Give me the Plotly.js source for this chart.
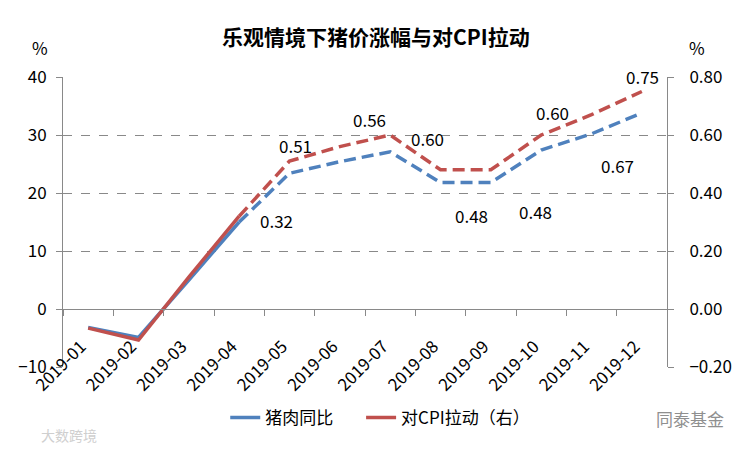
<!DOCTYPE html>
<html>
<head>
<meta charset="utf-8">
<script src="https://cdn.plot.ly/plotly-3.0.1.min.js"></script>
<style>html,body{margin:0;padding:0;background:#fff;}#chart{width:750px;height:450px;}</style>
</head>
<body>
<div id="chart"></div>
<script>
// ---- data ----
var months = ['2019-01','2019-02','2019-03','2019-04','2019-05','2019-06','2019-07','2019-08','2019-09','2019-10','2019-11','2019-12'];
var porkYoY = [-3.2, -4.9, 5.0, 15.0, 23.4, 25.4, 27.1, 21.8, 21.8, 27.4, 30.2, 33.8];
var cpiPull = [-0.066, -0.107, 0.11, 0.32, 0.51, 0.56, 0.60, 0.48, 0.48, 0.60, 0.67, 0.75];
var seriesNames = ['猪肉同比', '对CPI拉动（右）'];
var splitIndex = 3; // actual data up to 2019-04, forecast afterwards

// ---- styles ----
var FONT = '"Noto Sans CJK SC", "Noto Sans", sans-serif';
var BLUE = '#4F81BD', RED = '#C0504D', AXIS = '#898989';
var LW = 3.5, DASH = '12px,6px';
var NBSP = '\u00a0\u00a0\u00a0\u00a0\u00a0\u00a0';
// pixel offsets of the data labels (label placement only)
var labelShift = [[37,-4],[6,16],[30,27],[37,-3],[31,-46],[45,-42],[11,23],[26,-51],[1,15]];

var traces = [
  {x: months.slice(0, splitIndex + 1), y: porkYoY.slice(0, splitIndex + 1), name: seriesNames[0] + NBSP,
   type: 'scatter', mode: 'lines', line: {color: BLUE, width: LW}, legendgroup: 'a', yaxis: 'y'},
  {x: months.slice(splitIndex), y: porkYoY.slice(splitIndex), name: seriesNames[0], showlegend: false,
   type: 'scatter', mode: 'lines', line: {color: BLUE, width: LW, dash: DASH}, legendgroup: 'a', yaxis: 'y'},
  {x: months.slice(0, splitIndex + 1), y: cpiPull.slice(0, splitIndex + 1), name: seriesNames[1],
   type: 'scatter', mode: 'lines', line: {color: RED, width: LW}, legendgroup: 'b', yaxis: 'y2'},
  {x: months.slice(splitIndex), y: cpiPull.slice(splitIndex), name: seriesNames[1], showlegend: false,
   type: 'scatter', mode: 'lines', line: {color: RED, width: LW, dash: DASH}, legendgroup: 'b', yaxis: 'y2'}
];

var annotations = [];
for (var i = splitIndex; i < months.length; i++) {
  var s = labelShift[i - splitIndex];
  annotations.push({x: months[i], y: cpiPull[i], xref: 'x', yref: 'y2', text: cpiPull[i].toFixed(2),
    showarrow: false, xshift: s[0], yshift: s[1], font: {family: FONT, size: 17, color: '#000'}});
}
annotations.push({xref: 'paper', yref: 'paper', x: -0.038, y: 1.103, xanchor: 'center', yanchor: 'middle',
  text: '%', showarrow: false, font: {family: FONT, size: 17, color: '#000'}});
annotations.push({xref: 'paper', yref: 'paper', x: 1.050, y: 1.103, xanchor: 'center', yanchor: 'middle',
  text: '%', showarrow: false, font: {family: FONT, size: 17, color: '#000'}});
annotations.push({xref: 'paper', yref: 'paper', x: 1.038, y: -0.176, xanchor: 'center', yanchor: 'middle',
  text: '同泰基金', showarrow: false, font: {family: FONT, size: 17, color: '#8f8f8f'}});
annotations.push({xref: 'paper', yref: 'paper', x: 0.01, y: -0.234, xanchor: 'center', yanchor: 'middle',
  text: '大数跨境', showarrow: false, font: {family: FONT, size: 14, color: '#cfcfcf'}});

var tickFont = {family: FONT, size: 17, color: '#000'};
var layout = {
  width: 750, height: 450,
  margin: {l: 63, r: 83, t: 77, b: 83},
  paper_bgcolor: '#fff', plot_bgcolor: '#fff',
  title: {text: '<b>乐观情境下猪价涨幅与对CPI拉动</b>', x: 0.518, xref: 'paper', y: 0.916, yanchor: 'middle',
          font: {family: FONT, size: 21, color: '#000'}},
  showlegend: true,
  legend: {orientation: 'h', x: 0.2686, xanchor: 'left', y: -0.176, yanchor: 'middle',
           font: {family: FONT, size: 17, color: '#000'}},
  xaxis: {type: 'category', anchor: 'free', position: 0.2, range: [-0.5, 11.5],
          showline: true, linecolor: AXIS, linewidth: 1, showgrid: false, zeroline: false,
          ticks: 'outside', tickson: 'boundaries', ticklen: 6, tickcolor: AXIS,
          tickangle: -45, tickfont: tickFont, ticklabelstandoff: 20, ticklabelshift: -7},
  yaxis: {range: [-10, 40], dtick: 10, showline: true, linecolor: AXIS, linewidth: 1,
          ticks: 'outside', ticklen: 6, tickcolor: AXIS, showgrid: true, gridcolor: AXIS, griddash: 'dash',
          zeroline: true, zerolinecolor: AXIS, zerolinewidth: 1, tickfont: tickFont, ticklabelstandoff: 6},
  yaxis2: {overlaying: 'y', side: 'right', range: [-0.2, 0.8], dtick: 0.2, tickformat: '.2f',
           showline: true, linecolor: AXIS, linewidth: 1, showgrid: false, zeroline: false,
           ticks: 'outside', ticklen: 6, tickcolor: AXIS, tickfont: tickFont, ticklabelstandoff: 12},
  annotations: annotations
};

Plotly.newPlot('chart', traces, layout, {staticPlot: true});
</script>
</body>
</html>
